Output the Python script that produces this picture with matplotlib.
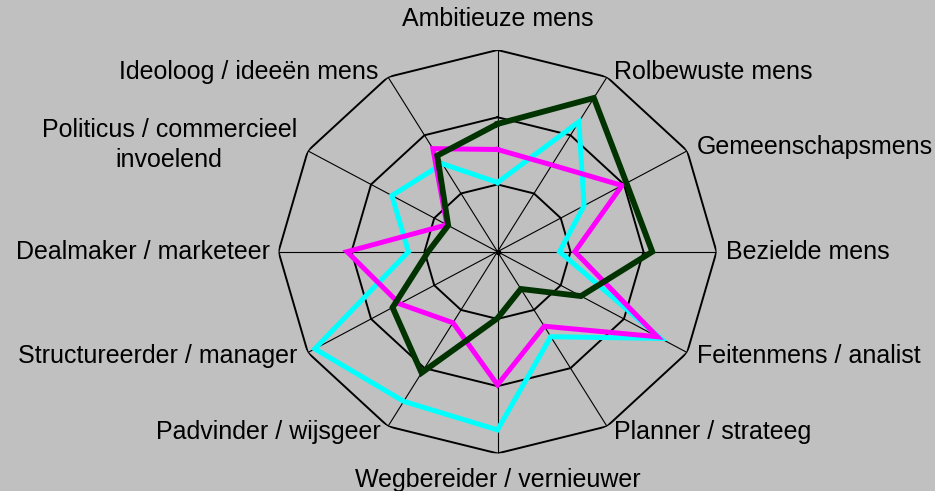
import numpy as np
import matplotlib
matplotlib.use("Agg")
import matplotlib.pyplot as plt

plt.rcParams['font.family'] = ['Liberation Sans', 'DejaVu Sans']

categories = ["Ambitieuze mens", "Rolbewuste mens", "Gemeenschapsmens", "Bezielde mens",
              "Feitenmens / analist", "Planner / strateeg", "Wegbereider / vernieuwer",
              "Padvinder / wijsgeer", "Structureerder / manager", "Dealmaker / marketeer",
              "Politicus / commercieel\ninvoelend", "Ideoloog / ideeën mens"]
series_green = [1.90, 2.64, 2.04, 2.12, 1.32, 0.64, 0.99, 2.08, 1.66, 0.95, 0.78, 1.65]
series_cyan = [1.03, 2.23, 1.37, 0.85, 2.58, 1.46, 2.65, 2.57, 2.89, 1.22, 1.67, 1.51]
series_magenta = [1.52, 1.49, 1.97, 1.06, 2.53, 1.28, 1.98, 1.22, 1.55, 2.06, 0.80, 1.77]
rings = [1, 2, 3]

bg = '#C0C0C0'
fig = plt.figure(figsize=(9.35, 4.91), dpi=100, facecolor=bg)
ax = fig.add_axes([278.5 / 935, 37.6 / 491, 438 / 935, 403.4 / 491], projection='polar')
ax.set_theta_zero_location('N')
ax.set_theta_direction(-1)
ax.set_ylim(0, rings[-1])
ax.set_aspect('auto')
ax.set_axis_off()

n = len(categories)
theta = np.arange(n) * 2 * np.pi / n
theta_c = np.append(theta, theta[0])

for th in theta:
    ax.plot([th, th], [0, rings[-1]], color='black', lw=0.8, zorder=1)
for r in rings:
    ax.plot(theta_c, [r] * (n + 1), color='black', lw=1.4, zorder=1)
ax.plot([0], [0], 'o', color='black', ms=3, zorder=2)

def closed(v):
    return list(v) + [v[0]]

ax.plot(theta_c, closed(series_cyan), color='#00FFFF', lw=3.6, zorder=3, solid_joinstyle='miter')
ax.plot(theta_c, closed(series_magenta), color='#FF00FF', lw=3.6, zorder=4, solid_joinstyle='miter')
ax.plot(theta_c, closed(series_green), color='#003300', lw=4.2, zorder=5, solid_joinstyle='miter')

offsets = [(0, 31, 'center'), (7, 5, 'left'), (10, 4, 'left'), (10, 0, 'left'),
           (10, -3, 'left'), (7, -6, 'left'), (0, -27, 'center'), (-7, -6, 'right'),
           (-10, -3, 'right'), (-8, 0, 'right'), (-11, 6, 'right'), (-10, 5, 'right')]
for th, lab, (dx, dy, ha) in zip(theta, categories, offsets):
    ax.annotate(lab, xy=(th, rings[-1]), xytext=(dx, dy), textcoords='offset pixels',
                ha=ha, va='center', multialignment='center', fontsize=18,
                color='black', annotation_clip=False, linespacing=1.35)

fig.savefig('out.png', dpi=100, facecolor=bg)
